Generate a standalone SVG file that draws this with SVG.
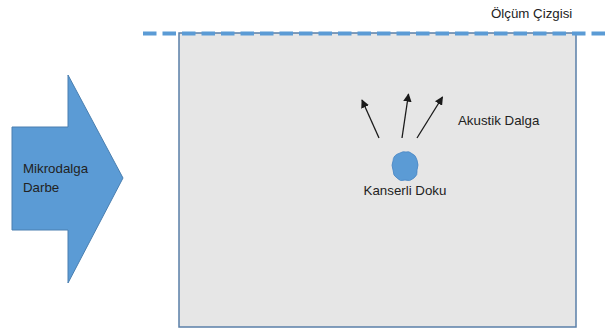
<svg xmlns="http://www.w3.org/2000/svg" width="606" height="331" viewBox="0 0 606 331">
<defs>
<style>
text{font-family:"Liberation Sans",Arial,sans-serif;font-size:13.3px;fill:#222}
.wave{stroke:#1a1a1a;stroke-width:1.3;fill:none;marker-end:url(#ah)}
</style>
<marker id="ah" viewBox="0 0 10 10" refX="9" refY="5" markerWidth="8.5" markerHeight="8.5" orient="auto" markerUnits="userSpaceOnUse">
<path d="M0,0 L10,5 L0,10 z" fill="#1a1a1a"/>
</marker>
</defs>
<rect width="606" height="331" fill="#ffffff"/>
<g id="tissue">
<rect x="179" y="33" width="397" height="294" fill="#e6e6e6" stroke="#5a7fa8" stroke-width="1.5"/>
</g>
<g id="measure-line">
<line x1="143" y1="33.5" x2="606" y2="33.5" stroke="#5b9bd5" stroke-width="4" stroke-dasharray="13.5 6"/>
<text x="491" y="18">Ölçüm Çizgisi</text>
</g>
<g id="microwave">
<polygon points="12,127 68,127 68,75 123,178 68,283 68,230 12,230" fill="#5b9bd5" stroke="#4a7fb0" stroke-width="1"/>
<text x="23" y="173">Mikrodalga</text>
<text x="23" y="192">Darbe</text>
</g>
<g id="cancer">
<path d="M400,153 Q403,151 406,152 Q409,151 411,153 Q416,155 417,160 Q419,165 417,170 Q418,175 414,178 Q410,182 405,180 Q400,182 397,178 Q393,176 393,170 Q391,165 393,161 Q393,155 400,153 z" fill="#5b9bd5" stroke="#4a86c4" stroke-width="0.8"/>
<text x="405" y="195" text-anchor="middle">Kanserli Doku</text>
</g>
<g id="connectors">
<line class="wave" x1="379" y1="138" x2="362" y2="100"/>
<line class="wave" x1="402" y1="138" x2="408.5" y2="94"/>
<line class="wave" x1="417" y1="138" x2="442.5" y2="97"/>
</g>
<g id="acoustic-label">
<text x="458" y="125">Akustik Dalga</text>
</g>
</svg>
